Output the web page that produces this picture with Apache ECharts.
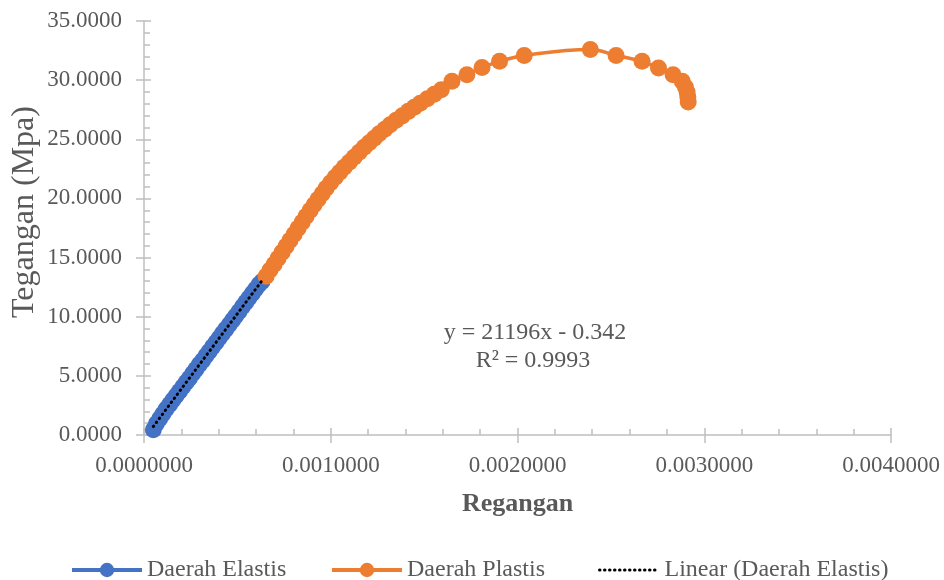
<!DOCTYPE html>
<html><head><meta charset="utf-8">
<script src="https://cdn.jsdelivr.net/npm/echarts@6/dist/echarts.min.js"></script>
<style>html,body{margin:0;padding:0;background:#fff}#c{width:944px;height:580px}</style>
</head><body><div id="c"></div>
<script>
// Daerah Elastis (strain, stress MPa)
const elasticStrain = [0.000050,0.000066,0.000084,0.000101,0.000119,0.000137,0.000155,0.000172,0.000190,0.000208,0.000226,0.000243,0.000261,0.000278,0.000296,0.000314,0.000332,0.000349,0.000367,0.000385,0.000403,0.000420,0.000438,0.000456,0.000474,0.000491,0.000509,0.000527,0.000545,0.000562,0.000580,0.000598,0.000616,0.000632];
const elasticStress = [0.45,0.95,1.38,1.78,2.19,2.58,2.96,3.31,3.70,4.07,4.46,4.80,5.20,5.56,5.95,6.30,6.70,7.06,7.45,7.82,8.21,8.57,8.95,9.33,9.71,10.07,10.45,10.84,11.22,11.58,11.96,12.34,12.72,12.98];
// Daerah Plastis
const plasticStrain = [0.000654,0.000675,0.000697,0.000718,0.000740,0.000761,0.000782,0.000804,0.000825,0.000847,0.000868,0.000890,0.000911,0.000932,0.000954,0.000975,0.000999,0.001024,0.001048,0.001072,0.001099,0.001125,0.001152,0.001179,0.001206,0.001233,0.001259,0.001289,0.001318,0.001350,0.001383,0.001415,0.001447,0.001479,0.001517,0.001554,0.001592,0.001649,0.001729,0.001810,0.001904,0.002036,0.002390,0.002528,0.002667,0.002755,0.002833,0.002882,0.002899,0.002908,0.002912,0.002914];
const plasticStress = [13.43,13.94,14.44,14.95,15.46,15.96,16.47,16.98,17.48,17.99,18.50,19.00,19.47,19.93,20.40,20.86,21.33,21.79,22.21,22.64,23.06,23.48,23.90,24.32,24.70,25.08,25.46,25.84,26.22,26.60,26.98,27.36,27.70,28.04,28.42,28.80,29.18,29.90,30.46,31.06,31.59,32.09,32.60,32.09,31.59,31.02,30.46,29.90,29.42,29.00,28.57,28.15];
// Linear trendline (Daerah Elastis): y = 21196x - 0.342, R² = 0.9993
const trendSlope = 21196;
const trendIntercept = -0.342;
const equationText = 'y = 21196x - 0.342';
const r2Text = 'R² = 0.9993';
const seriesNames = ['Daerah Elastis','Daerah Plastis','Linear (Daerah Elastis)'];

const F = '"Liberation Serif","Times New Roman",serif';
const axisCol = '#BFBFBF';
const txtCol = '#595959';
const tickLS = {color: axisCol, width: 1.5};
const blue = '#4472C4', orange = '#ED7D31';

const xMin = Math.min(...elasticStrain), xMax = Math.max(...elasticStrain);
const trendData = [[xMin, trendSlope*xMin + trendIntercept],[xMax, trendSlope*xMax + trendIntercept]];

const chart = echarts.init(document.getElementById('c'));
const legendCommon = {orient:'horizontal', top:558, padding:0, itemHeight:18, textStyle:{fontFamily:F, fontSize:24, color:txtCol, padding:[0,0,0,0]}};
chart.setOption({
  animation:false,
  backgroundColor:'#fff',
  grid:{left:144, right:53, top:21, bottom:145},
  xAxis:[
    {type:'value', min:0, max:0.004, interval:0.001, position:'bottom',
     axisLine:{lineStyle:{color:axisCol, width:1.5}},
     axisTick:{length:8, lineStyle:tickLS},
     axisLabel:{formatter:v=>v.toFixed(7), color:txtCol, fontSize:23, fontFamily:F, margin:19},
     splitLine:{show:false},
     name:'Regangan', nameLocation:'middle', nameGap:56,
     nameTextStyle:{fontSize:26, fontWeight:'bold', color:txtCol, fontFamily:F}},
    {type:'value', min:0, max:0.004, interval:0.001, position:'bottom',
     axisLine:{show:false}, axisLabel:{show:false},
     axisTick:{inside:true, length:7, lineStyle:tickLS},
     minorTick:{show:true, splitNumber:5, length:6, lineStyle:tickLS},
     splitLine:{show:false}}
  ],
  yAxis:[
    {type:'value', min:0, max:35, interval:5, position:'left',
     axisLine:{show:true, lineStyle:{color:axisCol, width:1.5}},
     axisTick:{show:true, length:8, lineStyle:tickLS},
     axisLabel:{formatter:v=>v.toFixed(4), color:txtCol, fontSize:23, fontFamily:F, margin:22},
     splitLine:{show:false}},
    {type:'value', min:0, max:35, interval:5, position:'left',
     axisLine:{show:false}, axisLabel:{show:false},
     axisTick:{show:true, inside:true, length:7, lineStyle:tickLS},
     minorTick:{show:true, splitNumber:5, length:6, lineStyle:tickLS},
     splitLine:{show:false}}
  ],
  legend:[
    Object.assign({}, legendCommon, {data:[seriesNames[0]], left:70, itemWidth:70, lineStyle:{width:4}}),
    Object.assign({}, legendCommon, {data:[seriesNames[1]], left:330, itemWidth:70, lineStyle:{width:4}}),
    Object.assign({}, legendCommon, {data:[seriesNames[2]], left:598, itemWidth:60, itemStyle:{opacity:0}, lineStyle:{width:3}})
  ],
  graphic:[
    {type:'text', x:25, y:212, rotation:Math.PI/2,
     style:{text:'Tegangan (Mpa)', align:'center', verticalAlign:'middle', font:'32px "Liberation Serif", serif', fill:txtCol}},
    {type:'text', x:535, y:333,
     style:{text:equationText, align:'center', verticalAlign:'middle', font:'24px "Liberation Serif", serif', fill:txtCol}},
    {type:'text', x:533, y:361,
     style:{text:r2Text, align:'center', verticalAlign:'middle', font:'24px "Liberation Serif", serif', fill:txtCol}}
  ],
  series:[
    {name:seriesNames[0], type:'line', xAxisIndex:0, yAxisIndex:0,
     data:elasticStrain.map((x,i)=>[x, elasticStress[i]]),
     symbol:'circle', symbolSize:17, smooth:true,
     lineStyle:{color:blue, width:3.5}, itemStyle:{color:blue}, z:2},
    {name:seriesNames[1], type:'line', xAxisIndex:0, yAxisIndex:0,
     data:plasticStrain.map((x,i)=>[x, plasticStress[i]]),
     symbol:'circle', symbolSize:17, smooth:0.4,
     lineStyle:{color:orange, width:3.5}, itemStyle:{color:orange}, z:3},
    {name:seriesNames[2], type:'line', xAxisIndex:0, yAxisIndex:0,
     data:trendData, symbol:'none',
     lineStyle:{color:'#000', width:3, type:[0.5,4.5], cap:'round'}, itemStyle:{color:'#000'}, z:5}
  ]
});
</script></body></html>
